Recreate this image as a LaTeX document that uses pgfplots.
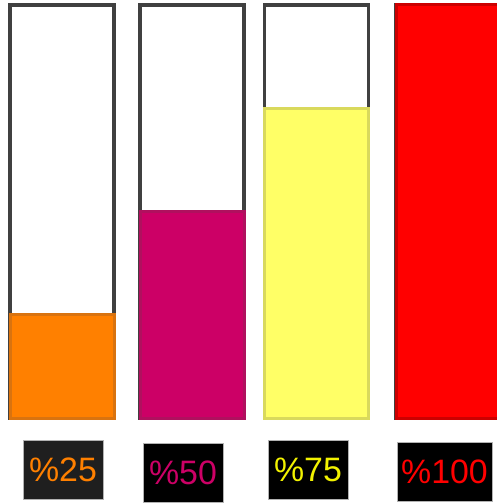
\documentclass[border=0pt]{standalone}
\usepackage{pgfplots}
\pgfplotsset{compat=1.18}
\usepackage{fontspec}
\setmainfont{Liberation Sans}

\definecolor{tube}{HTML}{404040}
\definecolor{c1}{HTML}{FF8000}
\definecolor{c1e}{HTML}{D9730F}
\definecolor{c2}{HTML}{CC0066}
\definecolor{c2e}{HTML}{B0105E}
\definecolor{c3}{HTML}{FFFF66}
\definecolor{c3e}{HTML}{D9D95C}
\definecolor{c4}{HTML}{FF0000}
\definecolor{c4e}{HTML}{CC0000}
\definecolor{t3}{HTML}{F2F200}

\begin{document}
\begin{tikzpicture}
	\begin{axis}[
		scale only axis,
		width=497bp, height=503bp,
		xmin=0, xmax=497,
		ymin=-20.58, ymax=101.21,
		hide axis,
		clip=true,
		ybar, bar width=104,
		]
		% empty tubes
		\addplot[bar shift=0pt, fill=white, draw=tube, line width=3.5bp]
		coordinates {(62,100) (192,100) (316.5,100) (448,100)};
		% filled levels
		\addplot[bar shift=0pt, fill=c1, draw=c1e, line width=3bp]
		coordinates {(62,25)};
		\addplot[bar shift=0pt, fill=c2, draw=c2e, line width=3bp]
		coordinates {(192,50)};
		\addplot[bar shift=0pt, fill=c3, draw=c3e, line width=3bp]
		coordinates {(316.5,75)};
		\addplot[bar shift=0pt, fill=c4, draw=c4e, line width=3bp]
		coordinates {(448,100)};

		\tikzset{lab/.style={fill=black, draw=gray!60, line width=0.8bp,
				minimum width=80bp, minimum height=59bp, inner sep=0pt,
				font=\fontsize{34}{40}\selectfont}}
		\node[lab, fill=black!88, text=c1] at (axis cs:63,-12.47) {\%25};
		\node[lab, text=c2] at (axis cs:183,-13.32) {\%50};
		\node[lab, text=t3] at (axis cs:308,-12.47) {\%75};
		\node[lab, text=c4, minimum width=95bp] at (axis cs:444.5,-13.08) {\%100};
	\end{axis}
	\pgfresetboundingbox
	\path (current axis.south west) rectangle (current axis.north east);
\end{tikzpicture}
\end{document}
